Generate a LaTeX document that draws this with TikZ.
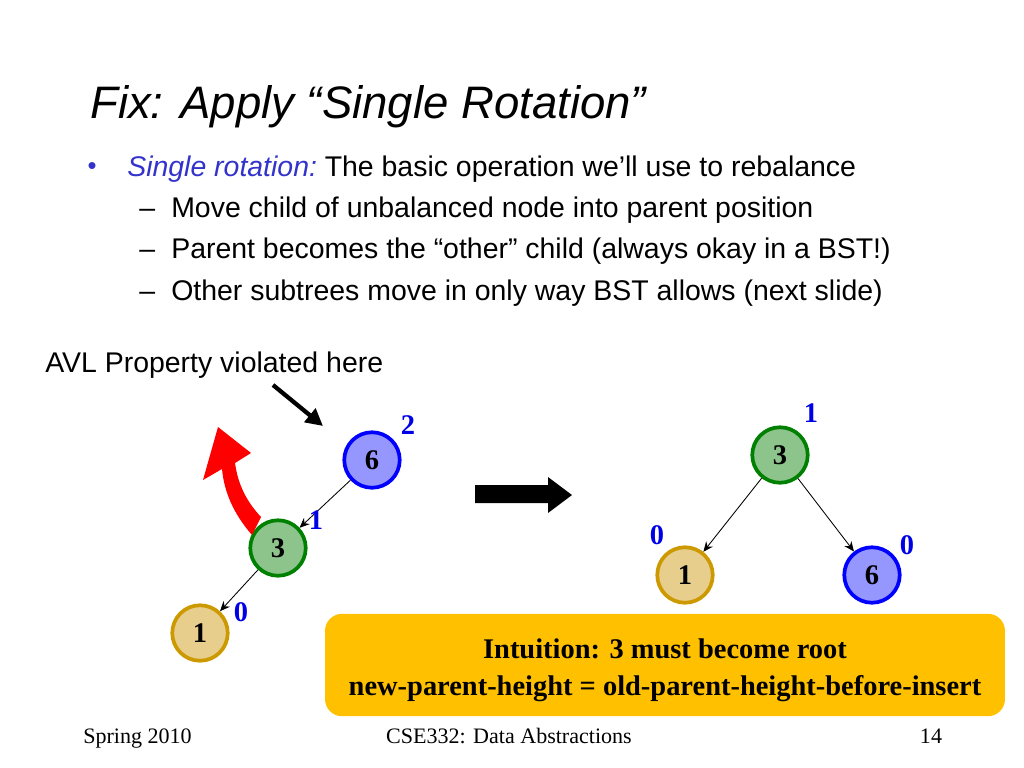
\documentclass[tikz,border=0pt]{standalone}
\usepackage{fontspec}
\setmainfont{Liberation Serif}
\newfontfamily\slidesans{Liberation Sans}
\usetikzlibrary{arrows.meta}
\definecolor{bulletblue}{RGB}{51,51,204}
\definecolor{hblue}{RGB}{0,0,230}
\definecolor{ngreen}{RGB}{0,128,0}
\definecolor{ngreenfill}{RGB}{140,196,140}
\definecolor{nblue}{RGB}{0,0,255}
\definecolor{nbluefill}{RGB}{150,150,255}
\definecolor{ngold}{RGB}{204,153,0}
\definecolor{ngoldfill}{RGB}{232,206,140}
\definecolor{boxgold}{RGB}{255,192,0}
\begin{document}
\begin{tikzpicture}[x=0.703pt,y=-0.703pt,
  tnode/.style={circle, minimum size=39pt, inner sep=0pt, line width=2.6pt, font=\fontsize{20}{20}\selectfont\bfseries},
  hlabel/.style={text=hblue, font=\fontsize{20}{20}\selectfont\bfseries},
  edge/.style={-{Stealth[length=7pt,width=6pt]}, semithick},
  slidetext/.style={anchor=base west, inner sep=0pt, font=\slidesans\fontsize{20}{20}\selectfont},
  foot/.style={inner sep=0pt, font=\fontsize{15.5}{15.5}\selectfont}]
\useasboundingbox (0,0) rectangle (1024,768);
% title and bullets
\node[anchor=base west, inner sep=0pt, font=\slidesans\itshape\fontsize{32}{32}\selectfont] (title) at (90,118) {Fix: Apply “Single Rotation”};
\node[anchor=base, inner sep=0pt, text=bulletblue, font=\slidesans\fontsize{18}{18}\selectfont] (b1) at (92,174) {•};
\node[slidetext] (t1) at (127,176) {\textcolor{bulletblue}{\itshape Single rotation:}\hspace{-2pt} The basic operation we’ll use to rebalance};
\node[slidetext] (d2) at (139,217) {–};
\node[slidetext] (t2) at (171,217) {Move child of unbalanced node into parent position};
\node[slidetext] (d3) at (139,258) {–};
\node[slidetext] (t3) at (171,258) {Parent becomes the “other” child (always okay in a BST!)};
\node[slidetext] (d4) at (139,300) {–};
\node[slidetext] (t4) at (171,300) {Other subtrees move in only way BST allows (next slide)};
\node[slidetext] (avl) at (45,372) {AVL Property violated here};
% tree before the rotation
\node[tnode, draw=nblue, fill=nbluefill] (six) at (372,460) {6};
\node[tnode, draw=ngreen, fill=ngreenfill] (three) at (278,548) {3};
\node[tnode, draw=ngold, fill=ngoldfill] (one) at (200,633) {1};
\draw[edge] (six) to (three);
\draw[edge] (three) to (one);
\node[hlabel] (h6) at (408,425) {2};
\node[hlabel] (h3) at (316,520) {1};
\node[hlabel] (h1) at (241,612) {0};
\coordinate (pfrom) at (273,385);
\coordinate (pto) at (323,426);
\draw[line width=3pt, -{Triangle[length=12pt,width=12pt]}] (pfrom) -- (pto);
% red rotation arrow
\fill[red] (252,535) .. controls (232,512) and (224,490) .. (222,469)
  -- (203,480) -- (218,427) -- (251,453) -- (235,463)
  .. controls (238,485) and (247,502) .. (261,517) -- cycle;
% big arrow
\fill[black] (475,485) -- (548,485) -- (548,477) -- (572,495) -- (548,513) -- (548,503) -- (475,503) -- cycle;
% tree after the rotation
\node[tnode, draw=ngreen, fill=ngreenfill] (root) at (780,455) {3};
\node[tnode, draw=ngold, fill=ngoldfill] (left) at (685,575) {1};
\node[tnode, draw=nblue, fill=nbluefill] (right) at (872,575) {6};
\draw[edge] (root) to (left);
\draw[edge] (root) to (right);
\node[hlabel] (hr) at (811,413) {1};
\node[hlabel] (hl) at (657,535) {0};
\node[hlabel] (hrr) at (907,545) {0};
% intuition box
\node[fill=boxgold, rounded corners=12pt, minimum width=478pt, minimum height=72pt, inner sep=0pt] (box) at (665,665) {};
\node[align=center, inner sep=0pt, font=\fontsize{20}{26}\selectfont\bfseries] (boxtext) at (665,670)
  {Intuition: 3 must become root\\new-parent-height = old-parent-height-before-insert};
% footer
\node[foot, anchor=base west] (spring) at (83,743) {Spring 2010};
\node[foot, anchor=base] (course) at (509,743) {CSE332: Data Abstractions};
\node[foot, anchor=base] (page) at (931,743) {14};
\end{tikzpicture}
\end{document}
